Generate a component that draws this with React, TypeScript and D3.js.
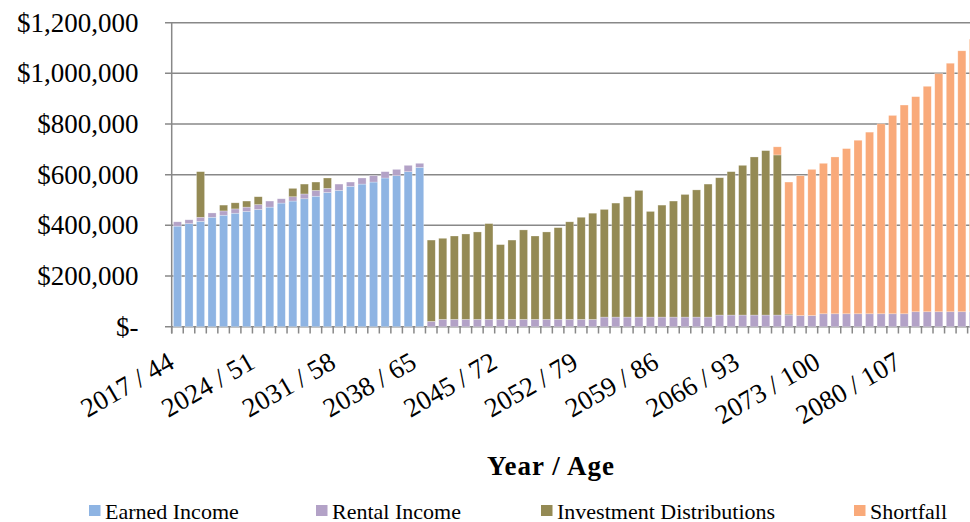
import React from "react";
import * as d3 from "d3";

// Categories: one bar per plan year, labelled every seventh year with the client's age
const startYear = 2017;
const startAge = 44;
const years = d3.range(startYear, startYear + 70);

const tickLabels = [
  "2017 / 44", "2024 / 51", "2031 / 58", "2038 / 65", "2045 / 72",
  "2052 / 79", "2059 / 86", "2066 / 93", "2073 / 100", "2080 / 107",
];

// Income sources per year, in $ thousands
const earnedIncome = [
  397, 407, 416, 432, 440, 448, 455, 463, 472, 488, 496, 505, 515, 530, 538, 554, 563, 571, 587, 596,
  612, 629, 0, 0, 0, 0, 0, 0, 0, 0, 0, 0, 0, 0, 0, 0, 0, 0, 0, 0,
  0, 0, 0, 0, 0, 0, 0, 0, 0, 0, 0, 0, 0, 0, 0, 0, 0, 0, 0, 0,
  0, 0, 0, 0, 0, 0, 0, 0, 0, 0,
];

const rentalIncome = [
  17, 15, 16, 17, 17, 17, 17, 19, 24, 17, 17, 19, 23, 16, 25, 17, 24, 25, 25, 25,
  25, 16, 21, 29, 29, 29, 29, 29, 29, 29, 29, 29, 29, 29, 29, 29, 29, 38, 38, 38,
  38, 38, 38, 38, 38, 38, 38, 46, 46, 46, 46, 46, 46, 46, 44, 44, 51, 51, 51, 51,
  51, 51, 51, 51, 59, 59, 59, 59, 59, 59,
];

const investmentDistributions = [
  0, 0, 180, 0, 23, 24, 24, 31, 0, 0, 33, 39, 33, 41, 0, 0, 0, 0, 0, 0,
  0, 0, 321, 320, 329, 337, 345, 378, 295, 313, 353, 329, 345, 362, 385, 403, 419, 425, 450, 475,
  500, 417, 442, 458, 484, 502, 525, 542, 566, 591, 624, 649, 632, 4, 0, 0, 0, 0, 0, 0,
  0, 0, 0, 0, 0, 0, 0, 0, 0, 0,
];

const shortfall = [
  0, 0, 0, 0, 0, 0, 0, 0, 0, 0, 0, 0, 0, 0, 0, 0, 0, 0, 0, 0,
  0, 0, 0, 0, 0, 0, 0, 0, 0, 0, 0, 0, 0, 0, 0, 0, 0, 0, 0, 0,
  0, 0, 0, 0, 0, 0, 0, 0, 0, 0, 0, 0, 32, 521, 552, 577, 594, 619, 652, 685,
  717, 750, 783, 824, 849, 890, 940, 981, 1030, 1076,
];

const yTicks = [0, 200000, 400000, 600000, 800000, 1000000, 1200000];

const seriesKeys = ["earned", "rental", "investment", "shortfall"];
const seriesNames = ["Earned Income", "Rental Income", "Investment Distributions", "Shortfall"];
const seriesColors = ["#8EB4E3", "#B3A2C7", "#948A54", "#F9AA7A"];

const W = 970;
const H = 522;
const FONT = "'Liberation Serif', 'Times New Roman', serif";

const rows = years.map((year, i) => ({
  year,
  age: startAge + (year - startYear),
  earned: earnedIncome[i] * 1000,
  rental: rentalIncome[i] * 1000,
  investment: investmentDistributions[i] * 1000,
  shortfall: shortfall[i] * 1000,
}));

const fmtMoney = (v: number) => (v === 0 ? "$-" : "$" + d3.format(",")(v));

export default function App() {
  const plotLeft = 171.7;
  const step = 11.535;
  const x = d3
    .scaleBand<number>()
    .domain(years)
    .range([plotLeft, plotLeft + step * years.length])
    .paddingInner(0.3)
    .paddingOuter(0.15);

  const y = d3.scaleLinear().domain([0, 1200000]).range([326.7, 22.7]);

  const stacked = d3.stack<any>().keys(seriesKeys)(rows);

  const gridColor = "#888888";
  const legendX = [89, 316, 541, 854];

  return (
    <svg
      width={W}
      height={H}
      viewBox={`0 0 ${W} ${H}`}
      style={{ position: "absolute", left: 0, top: 0, background: "#fff" }}
      fontFamily={FONT}
    >
      {/* horizontal gridlines */}
      {yTicks.map((t) => (
        <line
          key={"g" + t}
          x1={165}
          x2={W}
          y1={y(t)}
          y2={y(t)}
          stroke={gridColor}
          strokeWidth={1.5}
        />
      ))}

      {/* stacked bars */}
      {stacked.map((layer, si) => (
        <g key={layer.key} fill={seriesColors[si]}>
          {layer.map((d, i) => {
            const h = y(d[0]) - y(d[1]);
            if (h <= 0) return null;
            return (
              <rect
                key={i}
                x={x(years[i])}
                y={y(d[1])}
                width={x.bandwidth()}
                height={h}
                stroke="#ffffff"
                strokeOpacity={0.45}
                strokeWidth={0.6}
              />
            );
          })}
        </g>
      ))}

      {/* axes */}
      <line x1={plotLeft} x2={plotLeft} y1={y(1200000)} y2={333.5} stroke={gridColor} strokeWidth={1.5} />
      {years.map((yr, i) => (
        <line
          key={"t" + yr}
          x1={plotLeft + step * i}
          x2={plotLeft + step * i}
          y1={y(0)}
          y2={333.5}
          stroke={gridColor}
          strokeWidth={1.5}
        />
      ))}

      {/* y labels */}
      {yTicks.map((t) => (
        <text
          key={"yl" + t}
          x={138.5}
          y={y(t) + 8.8}
          textAnchor="end"
          fontSize={27}
          fill="#000"
        >
          {fmtMoney(t)}
        </text>
      ))}

      {/* x labels every 7 years */}
      {tickLabels.map((lab, k) => {
        const cx = (x(years[k * 7]) as number) + x.bandwidth() / 2 - 1.5;
        const cy = 367;
        return (
          <text
            key={lab}
            x={cx}
            y={cy}
            textAnchor="end"
            fontSize={27}
            transform={`rotate(-30 ${cx} ${cy})`}
            fill="#000"
          >
            {lab}
          </text>
        );
      })}

      {/* axis title */}
      <text
        x={551}
        y={475}
        textAnchor="middle"
        fontSize={27}
        fontWeight="bold"
        letterSpacing={1}
        fill="#000"
      >
        Year / Age
      </text>

      {/* legend */}
      {seriesNames.map((name, i) => (
        <g key={name}>
          <rect x={legendX[i]} y={505} width={11.5} height={11} fill={seriesColors[i]} />
          <text x={legendX[i] + 16} y={518.5} fontSize={22} fill="#000">
            {name}
          </text>
        </g>
      ))}
    </svg>
  );
}
